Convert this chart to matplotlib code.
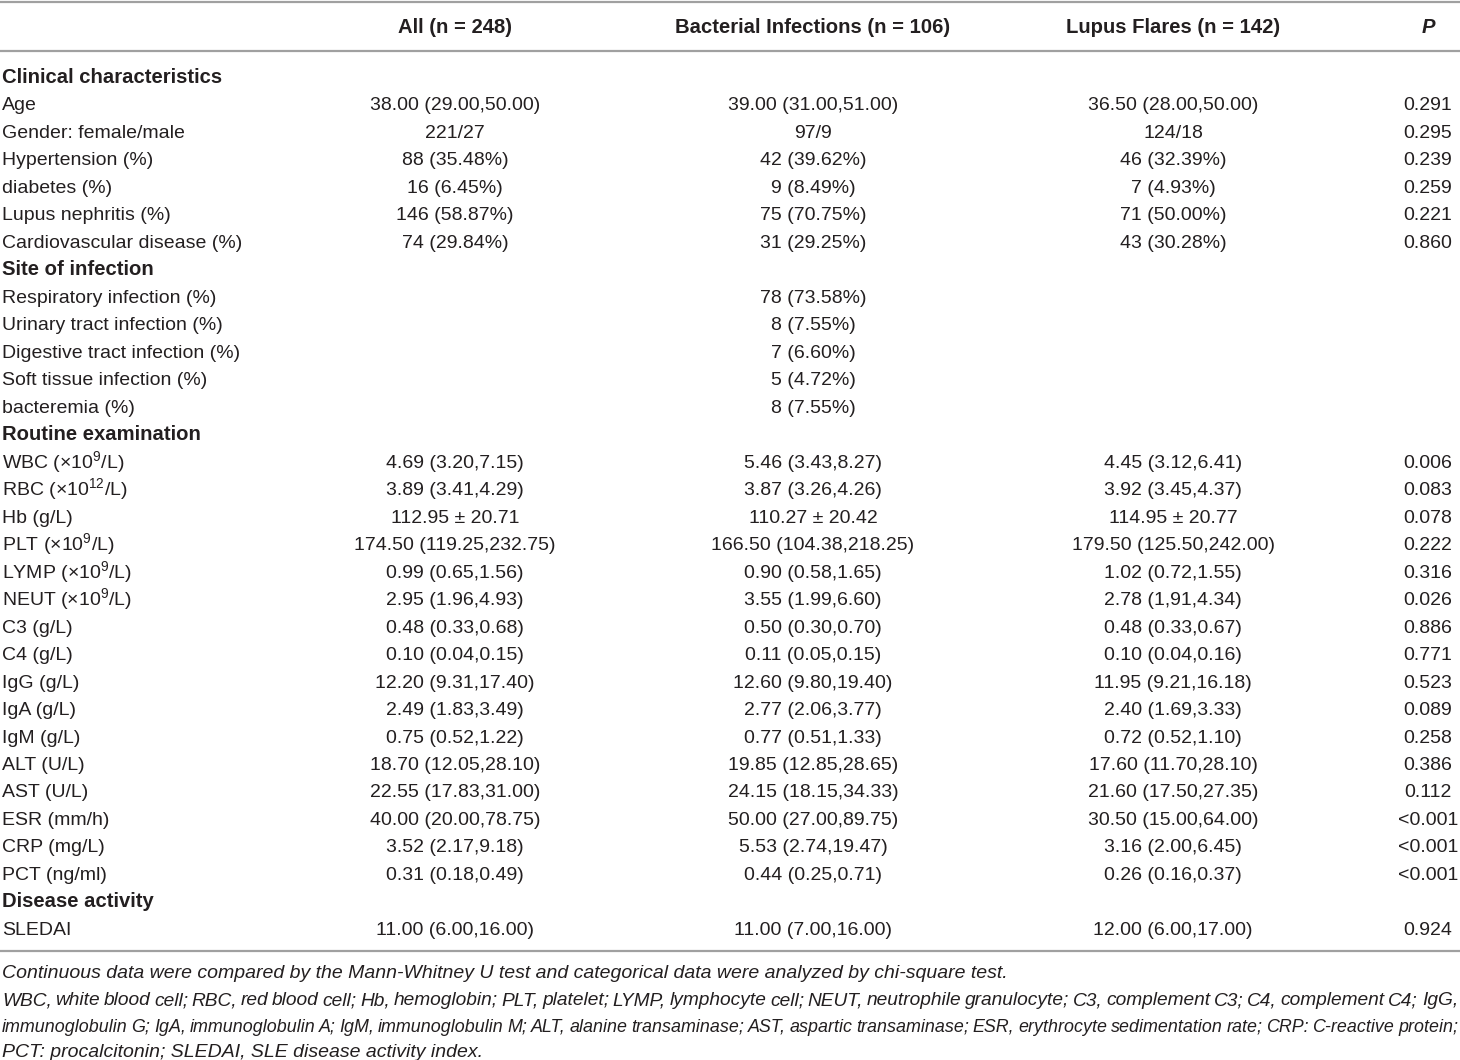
import matplotlib
matplotlib.use("Agg")
import matplotlib.pyplot as plt

plt.rcParams['font.family'] = ['Liberation Sans', 'DejaVu Sans']
plt.rcParams['mathtext.fontset'] = 'custom'
plt.rcParams['mathtext.rm'] = 'Liberation Sans'
plt.rcParams['mathtext.it'] = 'Liberation Sans:italic'

# ---------------- data ----------------
col_headers = ["All (n = 248)", "Bacterial Infections (n = 106)", "Lupus Flares (n = 142)", "P"]

# (label, is_section)
row_labels = [
    ("Clinical characteristics", True),
    ("Age", False),
    ("Gender: female/male", False),
    ("Hypertension (%)", False),
    ("diabetes (%)", False),
    ("Lupus nephritis (%)", False),
    ("Cardiovascular disease (%)", False),
    ("Site of infection", True),
    ("Respiratory infection (%)", False),
    ("Urinary tract infection (%)", False),
    ("Digestive tract infection (%)", False),
    ("Soft tissue infection (%)", False),
    ("bacteremia (%)", False),
    ("Routine examination", True),
    ("WBC (×10$^{9}$/L)", False),
    ("RBC (×10$^{12}$/L)", False),
    ("Hb (g/L)", False),
    ("PLT (×10$^{9}$/L)", False),
    ("LYMP (×10$^{9}$/L)", False),
    ("NEUT (×10$^{9}$/L)", False),
    ("C3 (g/L)", False),
    ("C4 (g/L)", False),
    ("IgG (g/L)", False),
    ("IgA (g/L)", False),
    ("IgM (g/L)", False),
    ("ALT (U/L)", False),
    ("AST (U/L)", False),
    ("ESR (mm/h)", False),
    ("CRP (mg/L)", False),
    ("PCT (ng/ml)", False),
    ("Disease activity", True),
    ("SLEDAI", False),
]

all_vals = [
    "", "38.00 (29.00,50.00)", "221/27", "88 (35.48%)", "16 (6.45%)", "146 (58.87%)", "74 (29.84%)",
    "", "", "", "", "", "",
    "", "4.69 (3.20,7.15)", "3.89 (3.41,4.29)", "112.95 ± 20.71", "174.50 (119.25,232.75)",
    "0.99 (0.65,1.56)", "2.95 (1.96,4.93)", "0.48 (0.33,0.68)", "0.10 (0.04,0.15)",
    "12.20 (9.31,17.40)", "2.49 (1.83,3.49)", "0.75 (0.52,1.22)", "18.70 (12.05,28.10)",
    "22.55 (17.83,31.00)", "40.00 (20.00,78.75)", "3.52 (2.17,9.18)", "0.31 (0.18,0.49)",
    "", "11.00 (6.00,16.00)",
]

bact_vals = [
    "", "39.00 (31.00,51.00)", "97/9", "42 (39.62%)", "9 (8.49%)", "75 (70.75%)", "31 (29.25%)",
    "", "78 (73.58%)", "8 (7.55%)", "7 (6.60%)", "5 (4.72%)", "8 (7.55%)",
    "", "5.46 (3.43,8.27)", "3.87 (3.26,4.26)", "110.27 ± 20.42", "166.50 (104.38,218.25)",
    "0.90 (0.58,1.65)", "3.55 (1.99,6.60)", "0.50 (0.30,0.70)", "0.11 (0.05,0.15)",
    "12.60 (9.80,19.40)", "2.77 (2.06,3.77)", "0.77 (0.51,1.33)", "19.85 (12.85,28.65)",
    "24.15 (18.15,34.33)", "50.00 (27.00,89.75)", "5.53 (2.74,19.47)", "0.44 (0.25,0.71)",
    "", "11.00 (7.00,16.00)",
]

lupus_vals = [
    "", "36.50 (28.00,50.00)", "124/18", "46 (32.39%)", "7 (4.93%)", "71 (50.00%)", "43 (30.28%)",
    "", "", "", "", "", "",
    "", "4.45 (3.12,6.41)", "3.92 (3.45,4.37)", "114.95 ± 20.77", "179.50 (125.50,242.00)",
    "1.02 (0.72,1.55)", "2.78 (1,91,4.34)", "0.48 (0.33,0.67)", "0.10 (0.04,0.16)",
    "11.95 (9.21,16.18)", "2.40 (1.69,3.33)", "0.72 (0.52,1.10)", "17.60 (11.70,28.10)",
    "21.60 (17.50,27.35)", "30.50 (15.00,64.00)", "3.16 (2.00,6.45)", "0.26 (0.16,0.37)",
    "", "12.00 (6.00,17.00)",
]

p_vals = [
    "", "0.291", "0.295", "0.239", "0.259", "0.221", "0.860",
    "", "", "", "", "", "",
    "", "0.006", "0.083", "0.078", "0.222", "0.316", "0.026", "0.886", "0.771",
    "0.523", "0.089", "0.258", "0.386", "0.112", "<0.001", "<0.001", "<0.001",
    "", "0.924",
]

footnotes = [
    "Continuous data were compared by the Mann-Whitney U test and categorical data were analyzed by chi-square test.",
    "WBC, white blood cell; RBC, red blood cell; Hb, hemoglobin; PLT, platelet; LYMP, lymphocyte cell; NEUT, neutrophile granulocyte; C3, complement C3; C4, complement C4; IgG,",
    "immunoglobulin G; IgA, immunoglobulin A; IgM, immunoglobulin M; ALT, alanine transaminase; AST, aspartic transaminase; ESR, erythrocyte sedimentation rate; CRP: C-reactive protein;",
    "PCT: procalcitonin; SLEDAI, SLE disease activity index.",
]
justify = [False, True, True, False]

# ---------------- drawing ----------------
W, H = 1460, 1060
fig = plt.figure(figsize=(W / 100, H / 100), dpi=100)
ax = fig.add_axes([0, 0, 1, 1])
ax.set_xlim(0, W)
ax.set_ylim(H, 0)
ax.axis('off')

txt = '#231f20'
line_c = '#a0a0a0'
fs = 14.0
fs_head = 14.6
bl = 5.0  # baseline offset below row centre

col_x = [455, 813, 1173, 1428]

# rules
for y in (1.5, 50.5, 951):
    ax.plot([0, W], [y, y], color=line_c, lw=1.6, solid_capstyle='butt')

# header
for i, h in enumerate(col_headers):
    style = 'italic' if h == 'P' else 'normal'
    ax.text(col_x[i], 28 + bl, h, ha='center', va='baseline', fontsize=fs_head,
            fontweight='bold', fontstyle=style, color=txt)

y0, dy = 78, 27.48
for r, (lab, sec) in enumerate(row_labels):
    y = y0 + r * dy + bl
    ax.text(2, y, lab, ha='left', va='baseline', fontsize=fs_head if sec else fs,
            fontweight='bold' if sec else 'normal', color=txt)
    for c, vals in enumerate([all_vals, bact_vals, lupus_vals, p_vals]):
        if vals[r]:
            ax.text(col_x[c], y, vals[r], ha='center', va='baseline', fontsize=fs, color=txt)

# footnotes
fn_y = [973, 1000, 1027, 1052]
fig.canvas.draw()
renderer = fig.canvas.get_renderer()


def word_widths(words, size):
    out = []
    for w in words:
        t = ax.text(0, 0, w, fontsize=size, fontstyle='italic')
        out.append(t.get_window_extent(renderer).width)
        t.remove()
    return out


left, right = 2, W - 2
min_gap = 3.5
for line, y, just in zip(footnotes, fn_y, justify):
    yb = y + bl
    if not just:
        ax.text(left, yb, line, ha='left', va='baseline', fontsize=fs, fontstyle='italic', color=txt)
        continue
    words = line.split(' ')
    size = fs
    widths = word_widths(words, size)
    avail = right - left
    need = sum(widths) + min_gap * (len(words) - 1)
    if need > avail:
        size = fs * (avail - min_gap * (len(words) - 1)) / sum(widths)
        widths = word_widths(words, size)
    gap = (avail - sum(widths)) / (len(words) - 1)
    x = left
    for w, wd in zip(words, widths):
        ax.text(x, yb, w, ha='left', va='baseline', fontsize=size, fontstyle='italic', color=txt)
        x += wd + gap

fig.savefig('out.png', dpi=100, facecolor='white')
